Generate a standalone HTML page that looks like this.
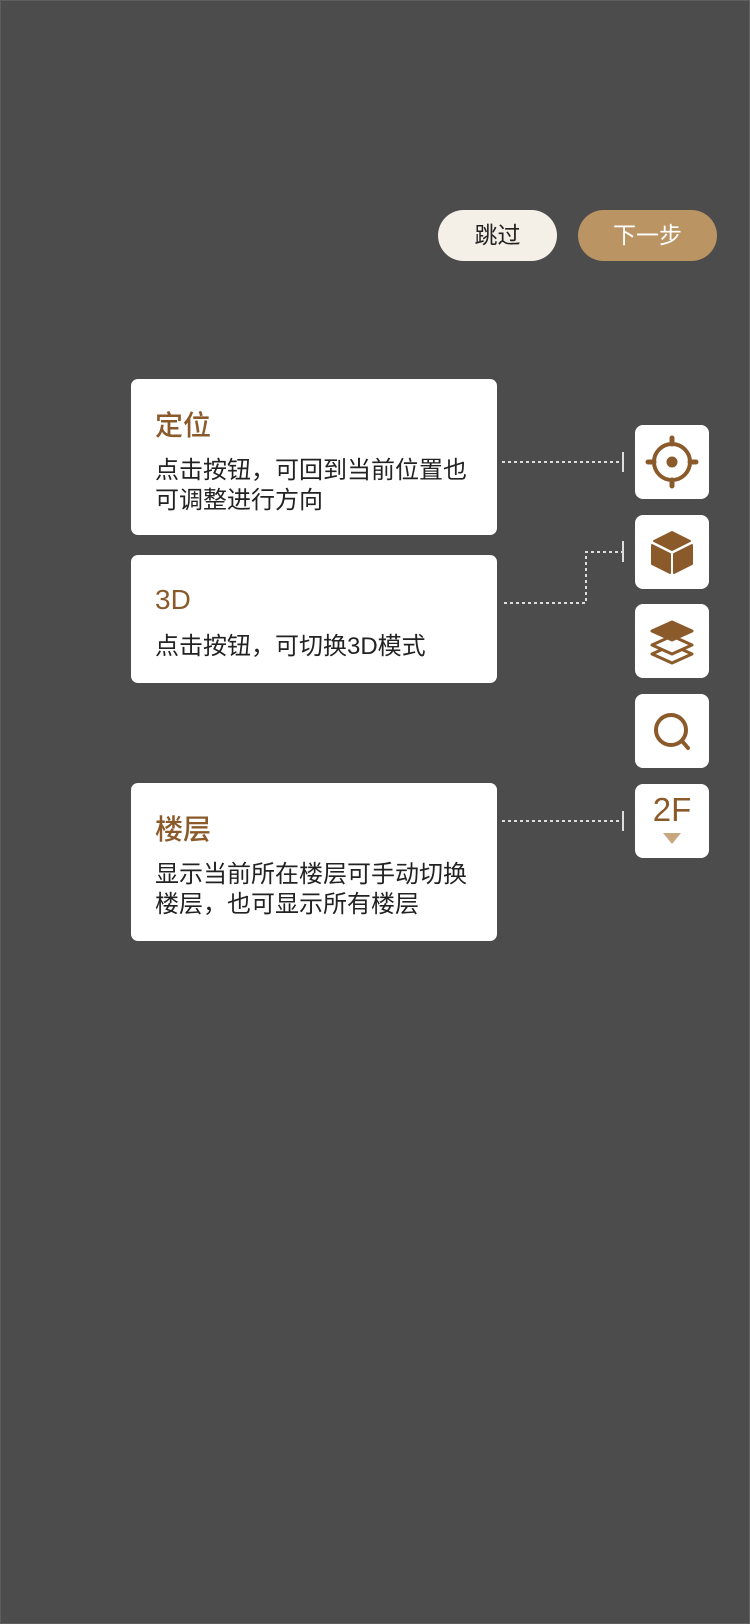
<!DOCTYPE html>
<html><head><meta charset="utf-8"><style>
body{margin:0;width:750px;height:1624px;background:#4c4c4c;position:relative;overflow:hidden;font-family:"Liberation Sans","Noto Sans CJK SC",sans-serif;}
.frame{position:absolute;left:0;top:0;width:748px;height:1622px;border:1px solid #5e5e5e;}
.btn{position:absolute;border-radius:26px;text-align:center;font-size:23px;line-height:51px;height:51px;}
.card{position:absolute;left:131px;width:366px;background:#fff;border-radius:7px;}
.card h3{margin:0;position:absolute;left:24px;font-size:28px;font-weight:500;color:#8b5a2b;}
.card p{margin:0;position:absolute;left:24px;font-size:24px;line-height:30px;color:#222;}
.ic{position:absolute;left:635px;width:74px;height:74px;background:#fff;border-radius:8px;}
</style></head><body><div class="frame"></div>
<div class="btn" style="left:438px;top:210px;width:119px;background:#f5f0e7;color:#222;">跳过</div>
<div class="btn" style="left:578px;top:210px;width:139px;background:#bb9463;color:#fff;">下一步</div>
<div class="card" style="top:379px;height:156px;"><h3 style="top:25px">定位</h3><p style="top:77px">点击按钮，可回到当前位置也<br>可调整进行方向</p></div>
<div class="card" style="top:555px;height:128px;"><h3 style="top:29px">3D</h3><p style="top:77px">点击按钮，可切换3D模式</p></div>
<div class="card" style="top:783px;height:158px;"><h3 style="top:25px">楼层</h3><p style="top:77px">显示当前所在楼层可手动切换<br>楼层，也可显示所有楼层</p></div>
<svg style="position:absolute;left:0;top:0" width="750" height="1624">
<g stroke="#ddd" stroke-width="2" fill="none">
<path d="M502 462H622" stroke-dasharray="3 3"/><path d="M623 452V472"/>
<path d="M504 603H586V552H622" stroke-dasharray="3 3"/><path d="M623 541V562"/>
<path d="M502 821H622" stroke-dasharray="3 3"/><path d="M623 811V831"/>
</g></svg>
<div class="ic" style="top:425px"><svg width="74" height="74"><g stroke="#8b5a2b" stroke-width="4" fill="none"><circle cx="37" cy="37" r="18"/><path d="M37 13V19M37 55V61M13 37H19M55 37H61" stroke-linecap="round" stroke-width="5"/></g><circle cx="37" cy="37" r="5.5" fill="#8b5a2b"/></svg></div>
<div class="ic" style="top:515px"><svg width="74" height="74"><path d="M37 17L55 26L37 35L19 26Z M17 30L35 39V58L17 49Z M57 30L39 39V58L57 49Z" fill="#8b5a2b" stroke="#8b5a2b" stroke-width="2" stroke-linejoin="round"/></svg></div>
<div class="ic" style="top:604px"><svg width="74" height="74"><path d="M37 41L57 50L37 59L17 50Z" fill="none" stroke="#8b5a2b" stroke-width="3" stroke-linejoin="round"/><path d="M37 32L57 41L37 50L17 41Z" fill="#fff" stroke="#8b5a2b" stroke-width="3" stroke-linejoin="round"/><path d="M37 18L57 27L37 36L17 27Z" fill="#8b5a2b" stroke="#8b5a2b" stroke-width="3" stroke-linejoin="round"/></svg></div>
<div class="ic" style="top:694px"><svg width="74" height="74"><circle cx="36" cy="36" r="15" fill="none" stroke="#8b5a2b" stroke-width="4"/><path d="M47 47L53 54" stroke="#8b5a2b" stroke-width="4" stroke-linecap="round"/></svg></div>
<div class="ic" style="top:784px"><div style="position:absolute;left:0;width:74px;top:8px;text-align:center;font-size:33px;line-height:36px;color:#8b5a2b;">2F</div><svg width="74" height="74" style="position:absolute;left:0;top:0"><path d="M28 49H46L37 60Z" fill="#c7a77f"/></svg></div>
</body></html>
